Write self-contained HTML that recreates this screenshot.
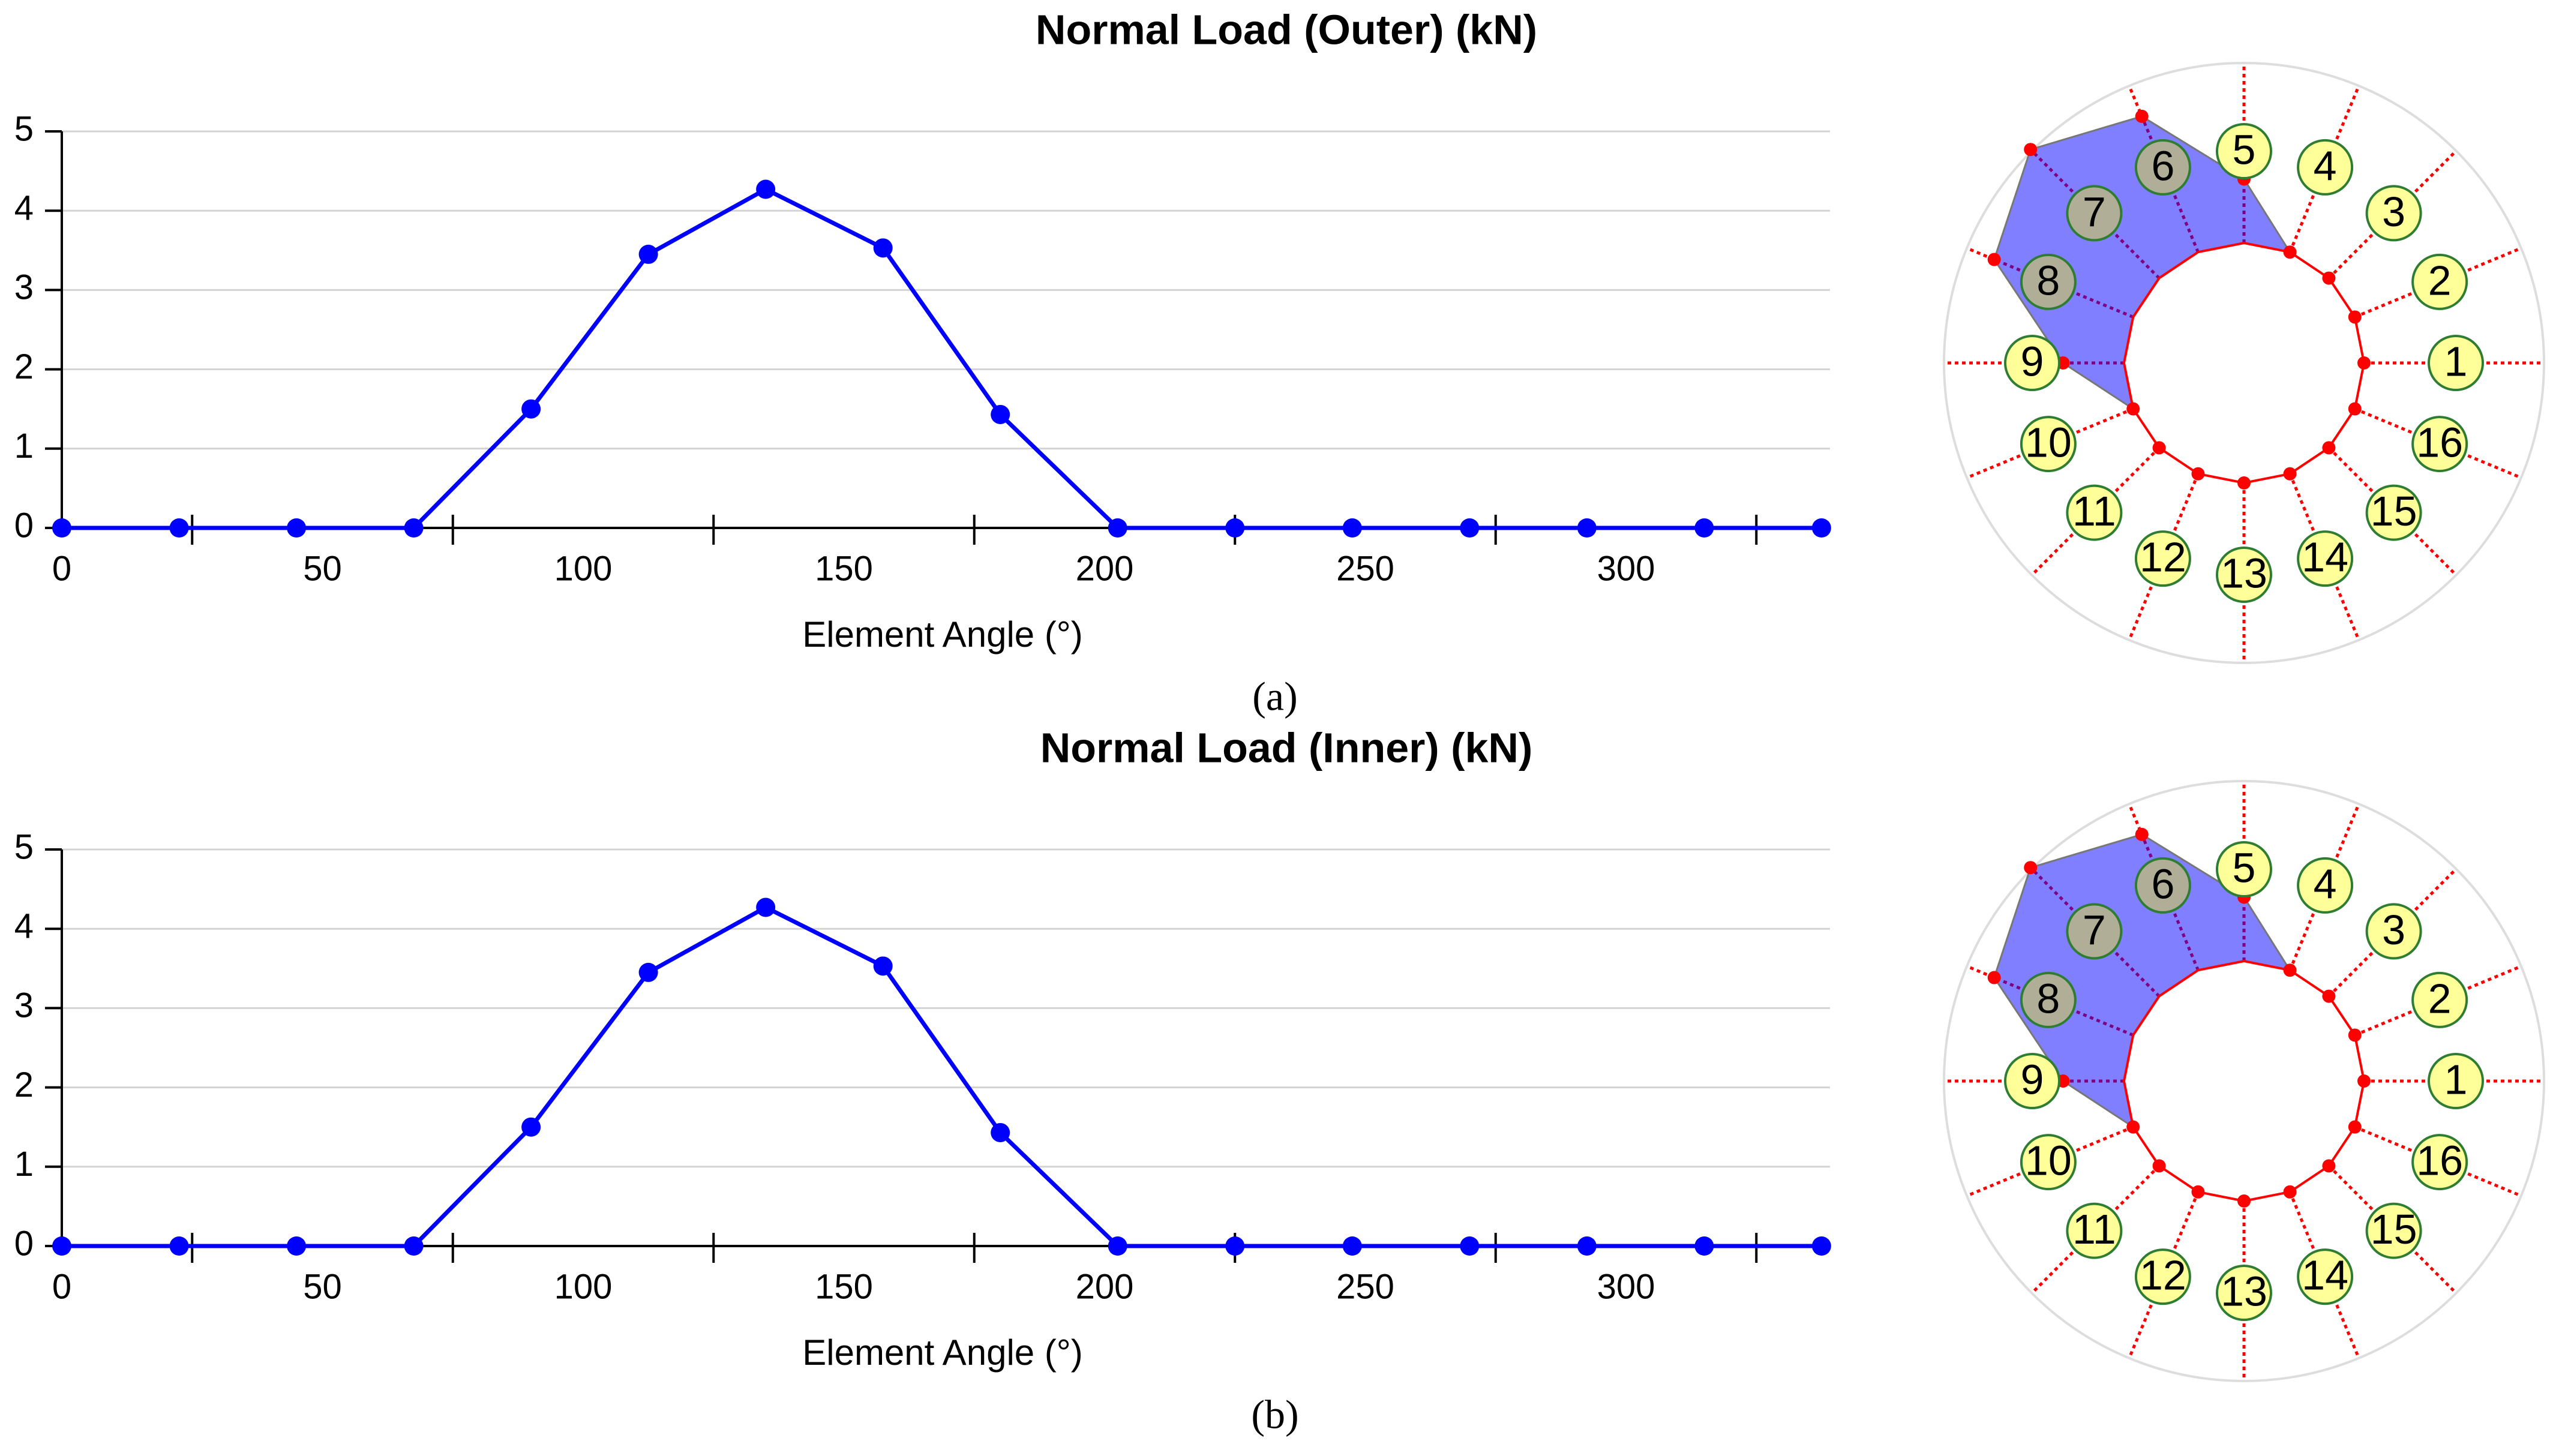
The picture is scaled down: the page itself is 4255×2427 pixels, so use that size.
<!DOCTYPE html>
<html><head><meta charset="utf-8"><style>
html,body{margin:0;padding:0;background:#fff;}
svg{display:block;}
text{font-family:"Liberation Sans",sans-serif;}
text.serif{font-family:"Liberation Serif",serif;}
</style></head>
<body>
<svg id="fig" width="4255" height="2427" viewBox="0 0 4255 2427" xmlns="http://www.w3.org/2000/svg"></svg>
<script>
const angles = [0,22.5,45,67.5,90,112.5,135,157.5,180,202.5,225,247.5,270,292.5,315,337.5];
const outerLoads = [0,0,0,0,1.5,3.45,4.27,3.53,1.43,0,0,0,0,0,0,0];
const innerLoads = [0,0,0,0,1.5,3.45,4.27,3.53,1.43,0,0,0,0,0,0,0];
const yTicks = [0,1,2,3,4,5];
const xTickLabels = [0,50,100,150,200,250,300];
const xMinorTicks = [25,75,125,175,225,275,325];
const elementLabels = ["1","2","3","4","5","6","7","8","9","10","11","12","13","14","15","16"];

const NS="http://www.w3.org/2000/svg";
const svg=document.getElementById('fig');
function mk(tag,attrs,parent,txt){const e=document.createElementNS(NS,tag);for(const k in attrs)e.setAttribute(k,attrs[k]);if(txt!==undefined)e.textContent=txt;(parent||svg).appendChild(e);return e;}

function drawChart(off,title,loads,cap,key){
  const g=mk('g',{});
  
  
  const X=a=>103+a*8.69, Y=v=>880+off-v*132.2;
  const t=mk('text',{x:2144,y:55+off,'font-size':70,'font-weight':'bold','text-anchor':'middle','dominant-baseline':'middle'},g,title);
  
  
  yTicks.forEach(v=>{
    if(v>0){const gl=mk('line',{x1:X(0),x2:3050,y1:Y(v),y2:Y(v),stroke:'#d3d3d3','stroke-width':3},g);
      
      }
    mk('line',{x1:75,x2:X(0),y1:Y(v),y2:Y(v),stroke:'#000','stroke-width':4},g);
    const tl=mk('text',{x:56,y:Y(v),'font-size':58,'text-anchor':'end','dominant-baseline':'middle'},g,String(v));
    
    
  });
  const ya=mk('line',{x1:X(0),x2:X(0),y1:Y(5),y2:Y(0),stroke:'#000','stroke-width':4},g);
  
  
  const xa=mk('line',{x1:X(0),x2:3050,y1:Y(0),y2:Y(0),stroke:'#000','stroke-width':4},g);
  
  
  xMinorTicks.forEach(a=>mk('line',{x1:X(a),x2:X(a),y1:Y(0)-22,y2:Y(0)+28,stroke:'#000','stroke-width':4},g));
  xTickLabels.forEach(a=>{
    const tl=mk('text',{x:X(a),y:Y(0)+72,'font-size':58,'text-anchor':'middle','dominant-baseline':'middle'},g,String(a));
    
    
  });
  const xt=mk('text',{x:1571,y:Y(0)+182,'font-size':60,'text-anchor':'middle','dominant-baseline':'middle'},g,'Element Angle (°)');
  
  
  const pl=mk('polyline',{points:angles.map((a,i)=>X(a)+','+Y(loads[i])).join(' '),fill:'none',stroke:'#0000ff','stroke-width':7},g);
  
  
  angles.forEach((a,i)=>{
    const c=mk('circle',{cx:X(a),cy:Y(loads[i]),r:16,fill:'#0000ff'},g);
    
    
  });
  const ct=mk('text',{x:2125,y:Y(0)+288,'font-size':68,'class':'serif','text-anchor':'middle','dominant-baseline':'middle'},g,cap);
  
  

  // polar diagram
  const cx=3740, cy=605+off, R=500, ri=200, sc=71, rl=353;
  const p=mk('g',{},g);
  
  
  mk('circle',{cx:cx,cy:cy,r:R,fill:'none',stroke:'#dddddd','stroke-width':4},p);
  const pt=(a,r)=>[cx+r*Math.cos(a*Math.PI/180), cy-r*Math.sin(a*Math.PI/180)];
  angles.forEach(a=>{const s=pt(a,ri),e=pt(a,R);
    mk('line',{x1:s[0],y1:s[1],x2:e[0],y2:e[1],stroke:'#ff0000','stroke-width':5,'stroke-dasharray':'6,6'},p);});
  const outer=angles.map((a,i)=>pt(a,ri+loads[i]*sc));
  const inner=angles.map(a=>pt(a,ri));
  let d='M'+outer.map(q=>q.join(',')).join(' L')+' Z M'+inner.slice().reverse().map(q=>q.join(',')).join(' L')+' Z';
  const poly=mk('path',{d:d,fill:'rgba(0,0,255,0.5)','fill-rule':'evenodd',stroke:'#777','stroke-width':3},p);
  
  
  mk('polygon',{points:inner.map(q=>q.join(',')).join(' '),fill:'#fff',stroke:'#ff0000','stroke-width':4},p);
  outer.forEach(q=>mk('circle',{cx:q[0],cy:q[1],r:11,fill:'#ff0000'},p));
  angles.forEach((a,i)=>{
    const q=pt(a,rl);
    const inside=ri+loads[i]*sc>rl;
    const lc=mk('circle',{cx:q[0],cy:q[1],r:45,fill:inside?'#b0ae96':'#ffff99',stroke:'#2e7d32','stroke-width':4},p);
    
    
    const lt=mk('text',{x:q[0],y:q[1]+3,'font-size':70,'text-anchor':'middle','dominant-baseline':'middle'},p,elementLabels[i]);
    
    
  });
}
drawChart(0,'Normal Load (Outer) (kN)',outerLoads,'(a)','outer');
drawChart(1197,'Normal Load (Inner) (kN)',innerLoads,'(b)','inner');
</script>
</body></html>
